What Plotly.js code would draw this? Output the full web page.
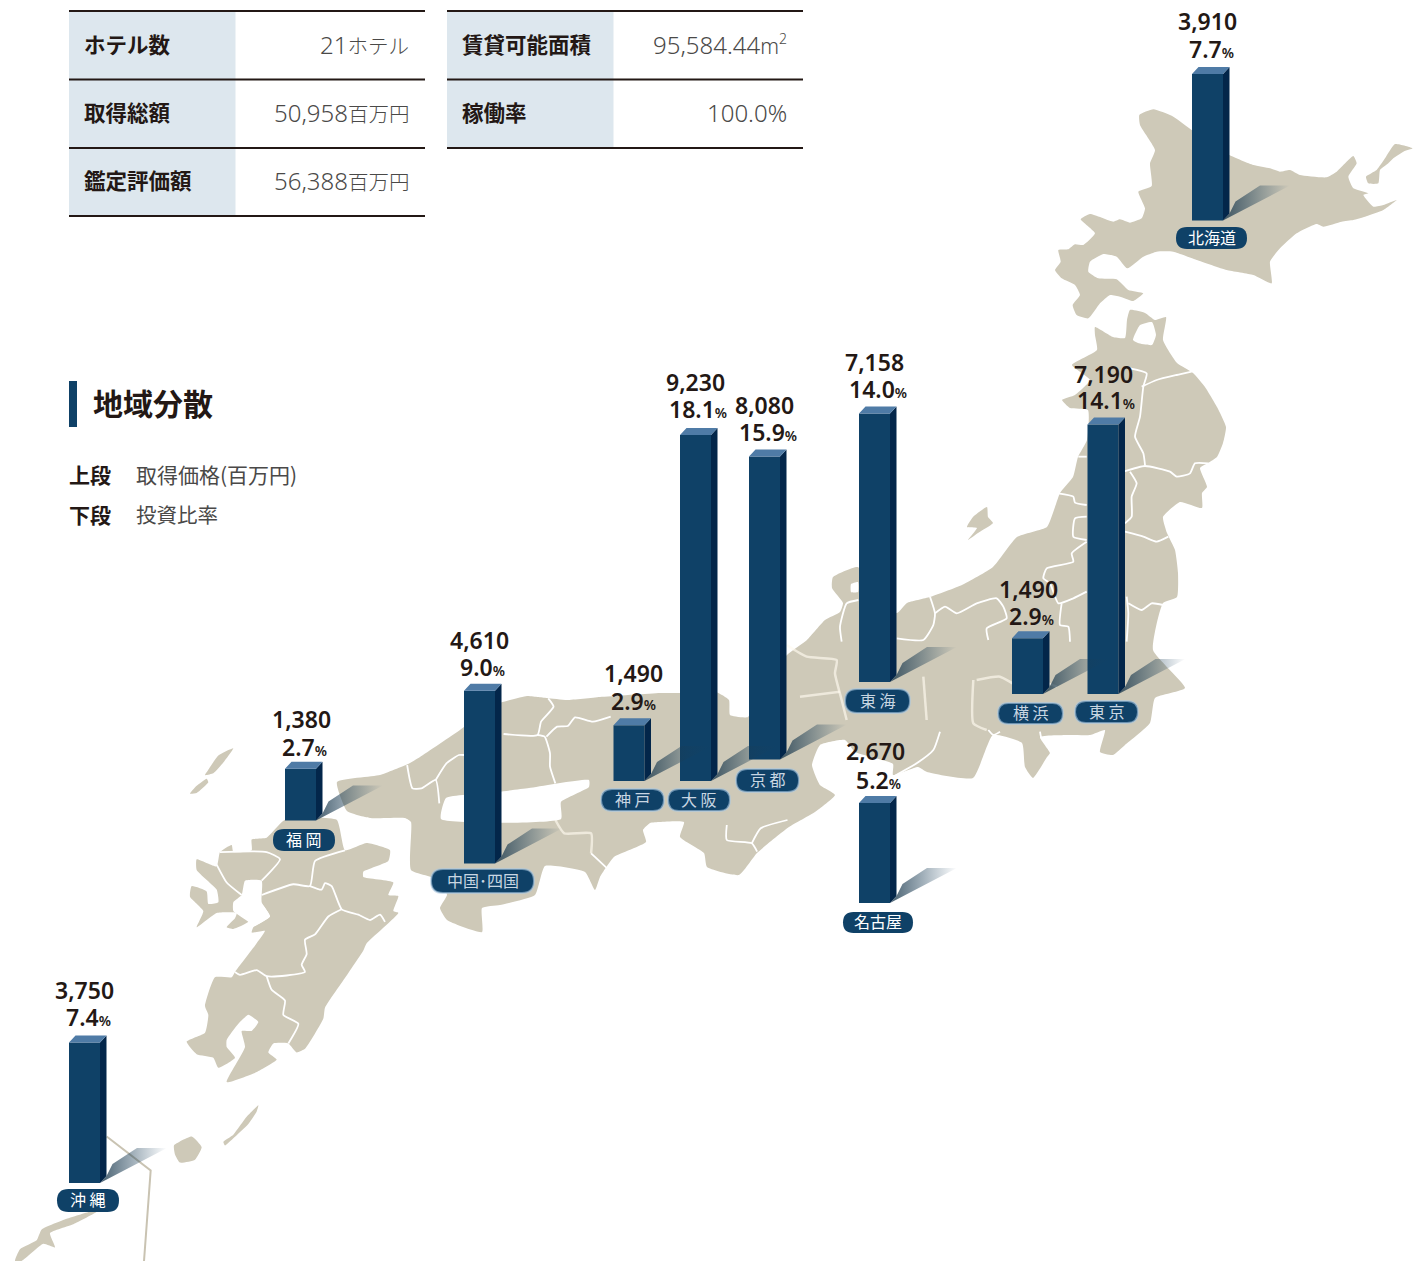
<!DOCTYPE html>
<html><head><meta charset="utf-8">
<script src="https://cdn.plot.ly/plotly-3.0.1.min.js"></script>
<style>html,body{margin:0;padding:0;background:#fff;overflow:hidden}#c{width:1413px;height:1261px}</style>
</head><body><div id="c"></div>
<script>
// ---------- chart data ----------
const regions = ['北海道','東京','横浜','東海','名古屋','京都','大阪','神戸','中国･四国','福岡','沖縄'];
const pillNames = ['北海道','東 京','横 浜','東 海','名古屋','京 都','大 阪','神 戸','中国･四国','福 岡','沖 縄'];
const values  = [3910,7190,1490,7158,2670,8080,9230,1490,4610,1380,3750];
const shares  = ['7.7','14.1','2.9','14.0','5.2','15.9','18.1','2.9','9.0','2.7','7.4'];
const summaryLabels = ['ホテル数','取得総額','鑑定評価額','賃貸可能面積','稼働率'];
const summaryNums  = ['21','50,958','56,388','95,584.44','100.0%'];
const summaryUnits = ['ホテル','百万円','百万円','m','' ];

// ---------- placement (page pixels) ----------
const W=1413,H=1261, UNIT=0.0375, BAR_W=31, DX=6.5, DY=7;
const barLeft  = [1192,1087.5,1012,859,859,749,680,613.5,464,285,69];
const barFoot  = [220.5,694,694,682,903,759.5,781,781,863.5,820.5,1183];
const numPos   = [[1207,22],[1103,375],[1028,590],[874,363],[875,752],[764,406],[695,383],[633,674],[479,641],[301,720],[84,991]];
const sharePos = [[1211,50],[1106,401],[1031,617],[878,390],[878,781],[768,433],[698,410],[633,702],[482,668],[304,748],[88,1018]];
const pillBox  = [[1176,1247,227,249],[1075,1138,701,723],[998,1063,703,724],[845,910,689,713],[843,913,912,933],[736,799,769,792],[668,730,789,811],[601,664,789,811],[431,534,869,893],[273,335,829,851],[57,119,1189,1212]];
const blurred  = [false,true,true,true,false,true,true,true,true,false,false];

// ---------- map outlines ----------
const crop=(ox,oy,sx,sy,l)=>l.map(([x,y])=>[ox+x/sx,oy+y/sy]);
const hokkaido=crop(1040,0,3,3,[[298,345],[340,328],[400,350],[458,392],[568,465],[640,495],[690,505],[720,515],[750,510],[780,525],[860,532],[890,515],[940,468],[950,490],[925,530],[940,565],[985,580],[970,585],[1000,620],[1030,615],[1070,600],[1030,630],[975,650],[940,660],[905,665],[850,680],[830,672],[770,700],[720,745],[690,785],[695,850],[640,825],[560,810],[470,780],[400,755],[350,755],[310,770],[262,805],[230,770],[190,762],[150,785],[145,815],[175,835],[230,838],[265,870],[310,880],[280,903],[240,890],[210,885],[180,910],[145,955],[110,945],[98,915],[120,885],[105,855],[65,835],[45,810],[62,785],[55,750],[85,748],[105,733],[130,735],[165,700],[122,658],[150,642],[220,665],[240,658],[270,668],[305,655],[315,625],[295,575],[335,558],[330,490],[345,450],[300,375]]);
const kuril=crop(1040,0,3,3,[[1065,432],[1118,445],[1090,455],[1060,475],[1045,490],[1020,510],[1015,550],[985,550],[978,530],[1010,510],[1035,475]]);
const honshu=[[1095,327],[1113,337],[1125,338],[1127,320],[1130,310],[1145,313],[1155,320],[1166,317],[1163,340],[1177,363],[1193,373],[1205,387],[1217,407],[1226,427],[1223,443],[1217,457],[1208,463],[1200,468],[1207,487],[1202,493],[1202,508],[1180,502],[1163,517],[1167,533],[1175,550],[1178,573],[1177,597],[1163,603],[1153,650],[1185,688],[1155,698],[1150,723],[1125,745],[1113,755],[1100,752],[1105,730],[1090,735],[1070,735],[1040,737],[1050,753],[1047,757],[1033,778],[1025,767],[1022,743],[993,735],[973,778],[927,772],[918,767],[893,775],[893,764],[855,752],[845,740],[820,745],[812,765],[820,785],[835,795],[815,812],[789,827],[757,853],[739,875],[707,867],[704,853],[680,837],[684,822],[660,822],[650,823],[643,830],[646,842],[614,857],[600,877],[595,890],[585,872],[545,866],[535,895],[500,905],[482,908],[482,932],[447,920],[440,908],[447,895],[440,880],[411,870],[411,822],[405,818],[370,818],[347,811],[337,782],[380,775],[408,764],[420,757],[460,730],[494,705],[527,696],[538,697],[547,698],[567,700],[600,697],[660,693],[678,693],[716,692],[729,700],[730,715],[748,717],[760,690],[787,655],[807,640],[825,620],[840,612],[843,603],[832,588],[833,577],[858,567],[870,600],[897,613],[907,603],[930,597],[962,585],[993,567],[1017,537],[1047,527],[1055,507],[1060,493],[1073,477],[1078,457],[1087,440],[1088,410],[1070,408],[1062,400],[1075,395],[1090,380],[1072,365],[1097,350],[1095,335]];
const sado=[[987,507],[988,517],[993,523],[978,533],[968,540],[977,528],[967,527],[973,517]];
const k=(l)=>crop(0,700,3,2.795,l);
const kyushu=k([[1010,335],[1035,420],[1100,400],[1170,420],[1165,450],[1090,480],[1090,495],[1180,510],[1165,545],[1195,548],[1180,590],[1195,595],[1100,680],[1090,700],[1040,770],[975,860],[970,890],[915,975],[890,985],[865,960],[820,960],[805,985],[830,1005],[770,1040],[680,1068],[735,970],[725,925],[755,925],[775,900],[745,880],[715,905],[680,950],[680,970],[705,1000],[655,1028],[640,1000],[590,990],[560,955],[615,930],[625,880],[615,855],[645,775],[695,775],[705,760],[770,680],[795,645],[755,650],[760,635],[810,605],[785,570],[755,580],[745,620],[700,640],[680,635],[705,610],[710,595],[650,595],[590,635],[610,590],[570,550],[575,520],[620,535],[625,570],[655,565],[650,530],[590,475],[590,445],[650,465],[660,425],[695,405],[700,425],[755,420],[755,390],[800,385],[855,335]]);
const yaku=k([[522,1245],[575,1220],[605,1250],[585,1285],[540,1293],[525,1270]]);
const tane=k([[775,1133],[740,1165],[700,1215],[670,1235],[675,1245],[700,1225],[745,1185],[770,1150]]);
const tsu1=k([[700,135],[655,155],[625,195],[615,210],[640,205],[670,175]]);
const tsu2=k([[620,220],[590,240],[570,262],[590,260],[625,230]]);
const okinawa=k([[270,1430],[200,1450],[125,1480],[110,1510],[60,1535],[45,1568],[65,1568],[130,1520],[165,1530],[150,1490],[220,1465],[290,1430]]);
const landParts=[hokkaido,kuril,honshu,sado,kyushu,yaku,tane,tsu1,tsu2,okinawa];
const seaParts=[
 [[1133,340],[1140,325],[1152,322],[1156,335],[1152,345],[1138,343]],
 [[851,584],[858,582],[858,592],[851,592]],
 [[441,819],[446,798],[489,793],[529,788],[589,780],[589,787],[561,802],[561,819]],
 k([[725,545],[735,505],[785,505],[785,565],[810,605],[755,635],[745,620],[700,590],[700,565]])
];
const frameLine=k([[320,1220],[452,1315],[432,1568]]);
const z3=(l)=>crop(780,320,3,3,l), z4=(l)=>crop(400,620,2.8,3,l);
const borders=[
 ...[[[1085,200],[1130,180],[1190,165],[1235,155]],
 [[1050,145],[1100,160],[1090,200],[1080,290],[1065,350],[1090,400],[1095,435]],
 [[1030,455],[1095,438],[1170,455],[1190,470],[1230,460],[1245,430],[1285,430]],
 [[1050,455],[1070,490],[1055,530],[1055,590],[1035,610]],
 [[1035,635],[1090,650],[1130,665],[1165,650]],
 [[895,410],[920,410]],
 [[835,520],[880,530],[885,548],[920,555]],
 [[920,590],[885,595],[880,650],[920,660]],
 [[920,665],[875,700],[880,725],[800,745],[790,775],[810,790],[835,850],[880,835],[920,815]],
 [[845,850],[840,915],[865,920],[870,965]],
 [[1040,830],[1045,880],[1040,965]],
 [[1045,850],[1085,870],[1115,850],[1150,855]],
 [[450,830],[465,880],[460,915],[430,960],[350,955]],
 [[465,880],[495,860],[530,880],[590,850],[650,835],[670,860],[680,895],[620,925],[625,960]],
 [[235,840],[200,850],[180,920],[185,965]],
 [[480,1235],[460,1290],[410,1330],[340,1370]],
 [[625,1230],[640,1245],[660,1235]],
 [[780,1235],[785,1255],[810,1255]]].map(z3),
 ...[[[415,235],[430,260],[395,305],[385,345],[290,342]],
 [[385,345],[405,350],[420,400],[420,440],[435,490]],
 [[410,350],[440,320],[470,318],[490,292],[540,305],[590,290]],
 [[20,435],[35,505],[60,505],[100,480],[110,550]],
 [[100,480],[130,430],[165,405],[180,405]],
 [[915,615],[915,660],[985,670],[1000,695]],
 [[985,670],[1010,625],[1085,600]],
 [[535,700],[545,710],[580,745]]].map(z4),
 ...[[[650,460],[680,510],[725,545]],
 [[660,425],[800,425],[840,445],[785,505]],
 [[785,545],[880,515],[930,520],[945,450],[1035,420]],
 [[930,520],[965,530],[975,512],[995,520],[1025,585],[1075,600],[1110,615],[1140,600],[1155,620]],
 [[1025,585],[985,605],[945,655],[915,670],[920,710],[905,740],[915,760],[860,770],[800,772],[770,755],[720,768],[705,760]],
 [[800,772],[815,810],[855,840],[850,880],[895,905],[865,960]]].map(k)
];
const softBorders=[
 ...[[[20,975],[80,1010],[170,1020],[165,1060],[185,1140],[200,1200]],
 [[60,1130],[180,1115]],[[430,1070],[440,1200]],
 [[590,1080],[660,1070],[720,1100],[750,1075],[830,1100]],
 [[580,1080],[580,1210],[620,1230]]].map(z3),
 ...[[[435,600],[460,640],[535,640],[535,700]]].map(z4)
];

// ---------- helpers ----------
const Y=v=>H-v;
function flat(parts,close){const xs=[],ys=[];parts.forEach(p=>{p.forEach(q=>{xs.push(q[0]);ys.push(Y(q[1]))});if(close){xs.push(p[0][0]);ys.push(Y(p[0][1]))}xs.push(null);ys.push(null)});return{x:xs,y:ys}}
const INK='#231815',NAVY='#0f4167',SIDE='#03264a',TOP='#4f7ba6',LAND='#cec9b8',GREY='#4a4948';
const FONT='"Noto Sans CJK JP","Noto Sans",sans-serif', NUMFONT='"Noto Sans","Noto Sans CJK JP",sans-serif';
const polyTrace=(parts,color,smooth)=>Object.assign(flat(parts,true),{type:'scatter',mode:'lines',fill:'toself',fillcolor:color,line:smooth?{width:0,shape:'spline',smoothing:.45}:{width:0},hoverinfo:'skip',showlegend:false});
const lineTrace=(parts,color,w)=>Object.assign(flat(parts,false),{type:'scatter',mode:'lines',line:{color:color,width:w,shape:'spline',smoothing:.5},hoverinfo:'skip',showlegend:false});

// ---------- traces ----------
const traces=[
 polyTrace(landParts,LAND,true),
 polyTrace(seaParts,'#ffffff',true),
 lineTrace(borders,'#ffffff',1.8),
 lineTrace(softBorders,'rgba(255,250,240,.65)',2.5),
 lineTrace([frameLine],'#c9c3b2',2)
];
traces[4].line.shape='linear';
const over={xaxis:'x2',yaxis:'y2'};
values.forEach((v,i)=>{
 const r=barLeft[i]+BAR_W,f=barFoot[i];
 traces.push(Object.assign(flat([[[r,f],[r+DX,f-DY],[r+DX+6,f-19],[r+37,f-35],[r+67,f-35]]],true),over,{type:'scatter',mode:'lines',fill:'toself',line:{width:0},hoverinfo:'skip',showlegend:false,
  fillcolor:'rgba(0,0,0,0)',fillgradient:{type:'horizontal',colorscale:[[0,'rgba(25,55,75,.8)'],[1,'rgba(25,65,95,0)']]}}));
});
traces.push(Object.assign({type:'bar',x:barLeft.map(l=>l+BAR_W/2),y:values.map(v=>v*UNIT),base:barFoot.map(Y),width:BAR_W,marker:{color:NAVY,line:{width:0}},hoverinfo:'skip',showlegend:false},over));
const sides=values.map((v,i)=>{const r=barLeft[i]+BAR_W,f=barFoot[i],t=f-v*UNIT;return [[r,f],[r+DX,f-DY],[r+DX,t-DY],[r,t]]});
const tops=values.map((v,i)=>{const l=barLeft[i],r=l+BAR_W,t=barFoot[i]-v*UNIT;return [[l,t],[l+DX,t-DY],[r+DX,t-DY],[r,t]]});
traces.push(Object.assign(polyTrace(sides,SIDE),over));
traces.push(Object.assign(polyTrace(tops,TOP),over));

// ---------- annotations and shapes ----------
const ann=[],shapes=[];
const txt=(x,y,text,size,color,anchor,weight,family)=>ann.push({x:x,y:Y(y),xref:'x',yref:'y',text:text,showarrow:false,xanchor:anchor||'center',yanchor:'middle',borderpad:0,font:{family:family||FONT,size:size,color:color,weight:weight||400}});
values.forEach((v,i)=>{
 txt(numPos[i][0],numPos[i][1]-1,v.toLocaleString('en-US'),23,INK,'center',600,NUMFONT);
 txt(sharePos[i][0],sharePos[i][1]-1,shares[i]+'<span style="font-size:14px">%</span>',23,INK,'center',600,NUMFONT);
});
pillBox.forEach((b,i)=>{
 const [a,c,t,u]=b,ya=Y(t),yb=Y(u),r=(u-t)/2;
 shapes.push({type:'path',xref:'x',yref:'y',layer:'above',fillcolor:NAVY,
  line:blurred[i]?{color:'rgba(170,200,225,.6)',width:2}:{width:0},
  path:`M${a+r},${ya}L${c-r},${ya}Q${c},${ya} ${c},${ya-r}Q${c},${yb} ${c-r},${yb}L${a+r},${yb}Q${a},${yb} ${a},${yb+r}Q${a},${ya} ${a+r},${ya}Z`});
 txt((a+c)/2,(t+u)/2-1.5,pillNames[i],16,blurred[i]?'#c8d6e2':'#ffffff');
});
const rule=(x0,x1,y)=>shapes.push({type:'line',xref:'x',yref:'y',x0:x0,x1:x1,y0:Y(y),y1:Y(y),layer:'above',line:{color:INK,width:2}});
const cell=(x0,x1,y0,y1,c)=>shapes.push({type:'rect',xref:'x',yref:'y',x0:x0,x1:x1,y0:Y(y0),y1:Y(y1),layer:'above',fillcolor:c,line:{width:0}});
cell(69,235.5,11,216,'#dde7ee');cell(447,613.5,11,148,'#dde7ee');
[11,79.5,148,216].forEach(y=>rule(69,425,y));
[11,79.5,148].forEach(y=>rule(447,803,y));
const valueText=i=>{
 const u=summaryUnits[i];
 if(u==='m')return summaryNums[i]+'<span style="font-size:21px">m</span><sup><span style="font-size:14px">2</span></sup>';
 return summaryNums[i]+(u?`<span style="font-size:20.5px">${u}</span>`:'');
};
[46,114,182].forEach((y,i)=>{txt(83,y-2.5,summaryLabels[i],21.5,INK,'left',700);txt(410,y-2,valueText(i),24,GREY,'right',300,NUMFONT)});
[46,114].forEach((y,i)=>{txt(461,y-2.5,summaryLabels[i+3],21.5,INK,'left',700);txt(788,y-2,valueText(i+3),24,GREY,'right',300,NUMFONT)});
cell(69,77,381,427,NAVY);
txt(92,402,'地域分散',30,INK,'left',700);
txt(68,474,'上段',21,INK,'left',700);txt(134.5,474,'取得価格(百万円)',21,GREY,'left',400);
txt(68,514,'下段',21,INK,'left',700);txt(134.5,514,'投資比率',20.5,GREY,'left',400);

const ax={range:[0,W],visible:false,fixedrange:true},ay={range:[0,H],visible:false,fixedrange:true};
Plotly.newPlot('c',traces,{
 width:W,height:H,margin:{l:0,r:0,t:0,b:0,pad:0},paper_bgcolor:'#fff',plot_bgcolor:'#fff',showlegend:false,barmode:'overlay',
 xaxis:Object.assign({},ax,{domain:[0,1]}),yaxis:Object.assign({},ay,{domain:[0,1]}),
 xaxis2:Object.assign({},ax,{overlaying:'x',anchor:'y2'}),yaxis2:Object.assign({},ay,{overlaying:'y',anchor:'x2'}),
 annotations:ann,shapes:shapes,font:{family:FONT}
},{displayModeBar:false,staticPlot:true});
</script></body></html>
